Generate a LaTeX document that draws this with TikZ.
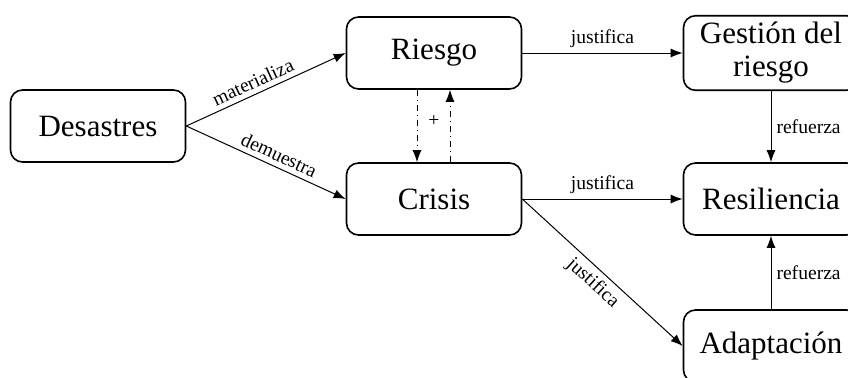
\documentclass[tikz,border=0pt]{standalone}
\usepackage{fontspec}
\setmainfont{Liberation Serif}
\usetikzlibrary{arrows.meta}

\tikzset{
  caja/.style={draw, line width=0.8pt, rounded corners=6pt, minimum width=87.5pt,
    minimum height=36pt, align=center, font=\fontsize{15.5}{16.5}\selectfont},
  flecha/.style={line width=0.5pt, -{Latex[length=6pt,width=4.5pt]}},
  etiq/.style={font=\fontsize{9.8}{11}\selectfont, inner sep=2.5pt}
}

\begin{document}
\begin{tikzpicture}[x=0.5pt,y=-0.5pt]
\useasboundingbox (0,0) rectangle (848,377);

\node[caja] (desastres) at (98,126) {Desastres};
\node[caja] (riesgo) at (434,53) {Riesgo};
\node[caja] (crisis) at (434,199) {Crisis};
\node[caja] (gestion) at (771,53) {Gestión del\\riesgo};
\node[caja] (resiliencia) at (771,199) {Resiliencia};
\node[caja] (adaptacion) at (771,346) {Adaptación};

\draw[flecha] (desastres.east) -- node[etiq,sloped,above,pos=0.45] {materializa} (riesgo.west);
\draw[flecha] (desastres.east) -- node[etiq,sloped,above,pos=0.55] {demuestra} (crisis.west);

\draw[flecha] (riesgo.east) -- node[etiq,above] {justifica} (gestion.west);
\draw[flecha] (crisis.east) -- node[etiq,above] {justifica} (resiliencia.west);
\draw[flecha] (crisis.east) -- node[etiq,sloped,below,pos=0.5] {justifica} (adaptacion.west);

% realimentacion entre riesgo y crisis
\draw[flecha,dashdotted] ([xshift=-8.5pt]riesgo.south) -- ([xshift=-8.5pt]crisis.north);
\draw[flecha,dashdotted] ([xshift=8pt]crisis.north) -- ([xshift=8pt]riesgo.south);
\node[etiq] (mas) at (434,121) {+};

\draw[flecha] (gestion.south) -- node[etiq,right] {refuerza} (resiliencia.north);
\draw[flecha] (adaptacion.north) -- node[etiq,right] {refuerza} (resiliencia.south);
\end{tikzpicture}
\end{document}
